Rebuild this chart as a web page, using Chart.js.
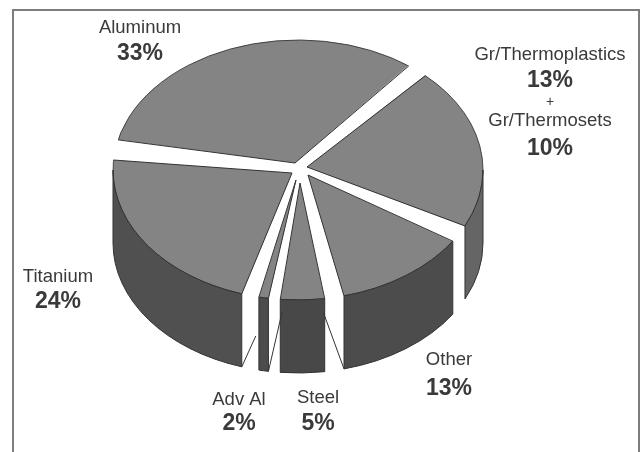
<!DOCTYPE html>
<html>
<head>
    <title>Materials pie</title>
    <style>
        body {
            margin: 0;
            padding: 0;
            background-color: #ffffff;
        }

        #frame {
            position: absolute;
            left: 12px;
            top: 9px;
            width: 624px;
            height: 443px;
            border: 2px solid #7d7d7d;
            border-bottom: none;
        }

        canvas {
            position: absolute;
            left: 0;
            top: 0;
            filter: blur(0.5px); /* the reference is a soft scan */
        }
    </style>
    <script src="https://cdn.jsdelivr.net/npm/chart.js"></script>
    <script>
        // Data, clockwise from the Gr slice
        const grThermoplastics = 13;
        const grThermosets = 10;
        const categories = ['Gr', 'Other', 'Steel', 'Adv Al', 'Titanium', 'Aluminum'];
        const shares = [grThermoplastics + grThermosets, 13, 5, 2, 24, 33];

        // Free text around the pie: text, x, y, bold
        const captions = [
            ['Aluminum', 140, 28, false],
            ['33%', 140, 54, true],
            ['Gr/Thermoplastics', 550, 55, false],
            ['13%', 550, 81, true],
            ['+', 550, 102, false],
            ['Gr/Thermosets', 550, 121, false],
            ['10%', 550, 149, true],
            ['Titanium', 58, 277, false],
            ['24%', 58, 302, true],
            ['Other', 449, 360, false],
            ['13%', 449, 389, true],
            ['Adv Al', 239, 400, false],
            ['2%', 239, 424, true],
            ['Steel', 318, 398, false],
            ['5%', 318, 424, true]
        ];

        // Look of the tilted pie
        const centerX = 298;
        const centerY = 170;
        const radiusX = 185;
        const radiusY = 130;
        const depth = 73;
        const rotation = 38;
        const topColor = '#848484';
        const wallColors = ['#656565', '#4c4c4c', '#484848', '#4c4c4c', '#505050', '#505050'];
        const lineColor = '#333333';
        // white cut on each side of a slice's start boundary, degrees
        const gapBefore = [1.2, 5.3, 2, 0.1, 0.6, 4.8];
        const gapAfter = [5.5, 2.4, 4.1, 3.6, 4.9, 4.2];
        // where each slice's point really sits, relative to the centre
        const apexShift = [[9, -3], [10, 5], [2, 13], [-2, 10], [-6, 3], [-3, -7]];
        // edges seen through the front gaps: slice, which end, how far in
        const innerEdges = [[4, 'start', 0.25], [3, 'start', 0.46], [1, 'end', 0.44]];

        function deg(d) {
            return d * Math.PI / 180;
        }

        function rimPoint(angle, frac, drop) {
            return [
                centerX + Math.cos(angle) * radiusX * frac,
                centerY + Math.sin(angle) * radiusY * frac + drop
            ];
        }

        function apexPoint(i) {
            return [centerX + apexShift[i][0], centerY + apexShift[i][1]];
        }

        // Chart.js draws a flat pie, this squashes it and adds the side walls and cuts
        const tiltPlugin = {
            id: 'tilt',
            beforeDatasetsDraw(chart) {
                const arc = chart.getDatasetMeta(0).data[0];
                const ctx = chart.ctx;
                ctx.save();
                ctx.translate(centerX, centerY);
                ctx.scale(1, radiusY / radiusX);
                ctx.translate(-arc.x, -arc.y);
            },
            afterDatasetsDraw(chart) {
                const ctx = chart.ctx;
                const arcs = chart.getDatasetMeta(0).data;
                ctx.restore();

                const count = arcs.length;
                const trimmed = arcs.map((arc, i) => ({
                    start: arc.startAngle + deg(gapAfter[i]),
                    end: arc.endAngle - deg(gapBefore[(i + 1) % count])
                }));

                // white cuts
                ctx.fillStyle = '#ffffff';
                arcs.forEach((arc, i) => {
                    const prev = (i + count - 1) % count;
                    const from = trimmed[prev].end;
                    const to = trimmed[i].start;
                    const a = apexPoint(prev);
                    const b = apexPoint(i);
                    ctx.beginPath();
                    ctx.moveTo(centerX, centerY);
                    ctx.lineTo(a[0], a[1]);
                    ctx.ellipse(centerX, centerY, radiusX + 3, radiusY + 3, 0, from, to);
                    ctx.lineTo(b[0], b[1]);
                    ctx.closePath();
                    ctx.fill();
                });

                // clean patch where the points meet
                ctx.beginPath();
                arcs.forEach((arc, i) => {
                    const p = apexPoint(i);
                    ctx.lineTo(p[0], p[1]);
                });
                ctx.closePath();
                ctx.fill();

                // slice edges along the cuts
                ctx.strokeStyle = lineColor;
                ctx.lineWidth = 1;
                trimmed.forEach((t, i) => {
                    const apex = apexPoint(i);
                    [t.start, t.end].forEach(a => {
                        const p = rimPoint(a, 1, 0);
                        ctx.beginPath();
                        ctx.moveTo(apex[0], apex[1]);
                        ctx.lineTo(p[0], p[1]);
                        ctx.stroke();
                    });
                });

                // side walls, front half only
                trimmed.forEach((t, i) => {
                    let a1 = t.start;
                    let a2 = t.end;
                    // compare in the turn that holds the front half
                    while (a1 < -Math.PI / 2) { a1 += Math.PI * 2; a2 += Math.PI * 2; }
                    a1 = Math.max(a1, 0);
                    a2 = Math.min(a2, Math.PI);
                    if (a2 <= a1) return;
                    ctx.beginPath();
                    ctx.ellipse(centerX, centerY, radiusX, radiusY, 0, a1, a2);
                    ctx.ellipse(centerX, centerY + depth, radiusX, radiusY, 0, a2, a1, true);
                    ctx.closePath();
                    ctx.fillStyle = wallColors[i];
                    ctx.fill();
                    ctx.stroke();
                });

                innerEdges.forEach(([i, side, frac]) => {
                    const a = side === 'start' ? trimmed[i].start : trimmed[i].end;
                    const p = rimPoint(a, 1, depth);
                    const q = rimPoint(a, 1 - frac, depth);
                    ctx.beginPath();
                    ctx.moveTo(p[0], p[1]);
                    ctx.lineTo(q[0], q[1]);
                    ctx.stroke();
                });

                ctx.textAlign = 'center';
                ctx.textBaseline = 'middle';
                ctx.fillStyle = '#3a3a3a';
                captions.forEach(([text, x, y, bold]) => {
                    if (text === '+') {
                        ctx.font = '14px "Liberation Sans"';
                    } else {
                        ctx.font = bold ? 'bold 23px "Liberation Sans"' : '18.5px "Liberation Sans"';
                    }
                    ctx.fillText(text, x, y);
                });
            }
        };

        document.addEventListener("DOMContentLoaded", function() {
            var ctx = document.getElementById('myChart').getContext('2d');
            new Chart(ctx, {
                type: 'pie',
                data: {
                    labels: categories,
                    datasets: [{
                        data: shares,
                        backgroundColor: topColor,
                        borderColor: lineColor,
                        borderWidth: 1,
                        radius: radiusX
                    }]
                },
                options: {
                    responsive: false,
                    animation: false,
                    rotation: rotation,
                    plugins: {
                        legend: { display: false },
                        tooltip: { enabled: false }
                    }
                },
                plugins: [tiltPlugin]
            });
        });
    </script>
</head>
<body>
    <div id="frame"></div>
    <canvas id="myChart" width="640" height="452"></canvas>
</body>
</html>
